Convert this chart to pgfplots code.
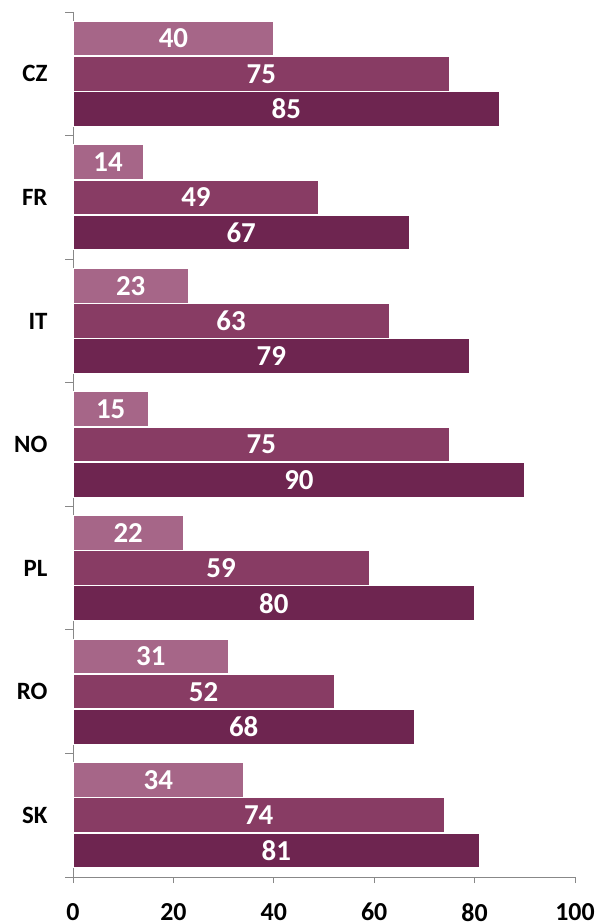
\documentclass[border=0pt]{standalone}
\usepackage{fontspec}
\setmainfont{Carlito}
\usepackage{pgfplots}
\usepackage{pgfplotstable}
\pgfplotsset{compat=1.18}
\definecolor{cA}{HTML}{A66688}
\definecolor{cB}{HTML}{883C64}
\definecolor{cC}{HTML}{6E2550}
\definecolor{axgray}{HTML}{888888}
\pgfplotstableread{
y v
0 40
1 14
2 23
3 15
4 22
5 31
6 34
}\seriesA
\pgfplotstableread{
y v
0 75
1 49
2 63
3 75
4 59
5 52
6 74
}\seriesB
\pgfplotstableread{
y v
0 85
1 67
2 79
3 90
4 80
5 68
6 81
}\seriesC
\begin{document}
\begin{tikzpicture}[x=1bp,y=1bp]
\path[use as bounding box] (0,0) rectangle (603,924);
\begin{axis}[
  at={(73bp,47bp)}, anchor=south west,
  width=502bp, height=865bp, scale only axis,
  xmin=0, xmax=100, ymin=-0.5, ymax=6.5, y dir=reverse,
  axis x line*=bottom, axis y line*=left,
  axis line style={draw=axgray, line width=0.8bp, -},
  xtick={0,20,...,100},
  ytick={0,...,6}, yticklabels={CZ,FR,IT,NO,PL,RO,SK},
  minor ytick={-0.5,0.5,...,6.5},
  tick align=outside,
  every tick/.style={draw=axgray, line width=0.8bp},
  every major y tick/.append style={draw=none},
  major tick length=6bp, minor tick length=8bp,
  /pgf/number format/assume math mode=true,
  ticklabel style={text=black},
  xticklabel style={font=\bfseries\fontsize{26}{26}\selectfont, inner sep=0pt, anchor=north, yshift=-20bp},
  yticklabel style={font=\bfseries\fontsize{25}{25}\selectfont, xshift=-16bp},
  clip=false,
]
\addplot[xbar, bar width=0.28, bar shift=-0.285, fill=cA, draw=white, line width=1bp] table[x=v,y=y]{\seriesA};
\addplot[xbar, bar width=0.28, bar shift=0, fill=cB, draw=white, line width=1bp] table[x=v,y=y]{\seriesB};
\addplot[xbar, bar width=0.28, bar shift=0.285, fill=cC, draw=white, line width=1bp] table[x=v,y=y]{\seriesC};
\pgfplotsset{lbl/.style={draw=none, nodes near coords, point meta=explicit symbolic,
  nodes near coords style={text=white, font=\bfseries\fontsize{29}{29}\selectfont, anchor=center, inner sep=0pt}}}
\addplot[lbl] table[x expr=\thisrow{v}/2, y expr=\thisrow{y}-0.285, meta=v]{\seriesA};
\addplot[lbl] table[x expr=\thisrow{v}/2, y expr=\thisrow{y}, meta=v]{\seriesB};
\addplot[lbl] table[x expr=\thisrow{v}/2, y expr=\thisrow{y}+0.285, meta=v]{\seriesC};
\end{axis}
\end{tikzpicture}
\end{document}
